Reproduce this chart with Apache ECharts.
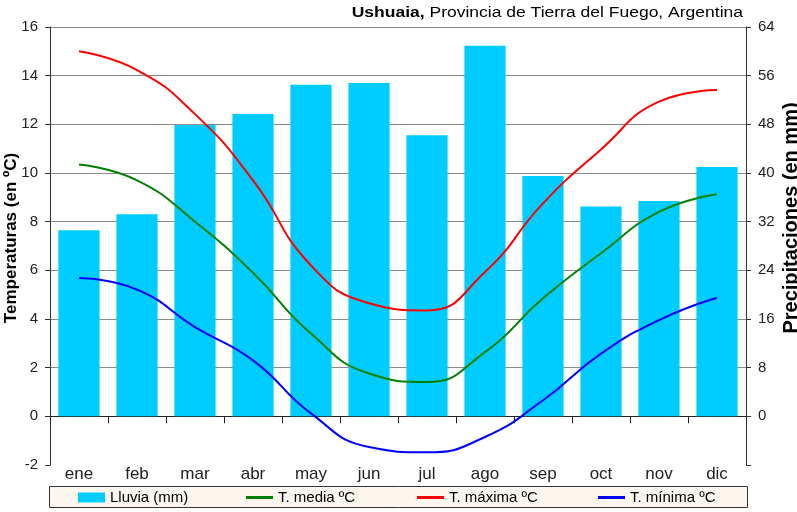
<!DOCTYPE html>
<html><head><meta charset="utf-8">
<script src="https://cdn.jsdelivr.net/npm/echarts@6/dist/echarts.min.js"></script>
<style>html,body{margin:0;padding:0;background:#fff}#c{width:797px;height:512px}</style>
</head><body><div id="c"></div>
<script>
const months = ['ene','feb','mar','abr','may','jun','jul','ago','sep','oct','nov','dic'];
const lluvia = [30.6, 33.2, 47.9, 49.7, 54.5, 54.8, 46.2, 60.9, 39.5, 34.5, 35.4, 41.0];
const tMedia = [10.35, 9.7, 8.0, 5.9, 3.4, 1.76, 1.41, 2.64, 4.85, 6.7, 8.4, 9.13];
const tMaxima = [15.0, 14.23, 12.42, 9.7, 6.2, 4.65, 4.35, 5.93, 8.75, 10.97, 12.93, 13.41];
const tMinima = [5.68, 5.21, 3.67, 2.3, 0.12, -1.26, -1.48, -0.85, 0.66, 2.58, 3.95, 4.87];
const leftTicks = {min: -2, max: 16, interval: 2};
const rightTicks = {min: -8, max: 64, interval: 8};
const titleBold = 'Ushuaia,';
const titleRest = ' Provincia de Tierra del Fuego, Argentina';

const font = '"Liberation Sans", Arial, sans-serif';
const chart = echarts.init(document.getElementById('c'), null, {renderer: 'canvas'});
const gridCols = ['rgba(0,0,0,0)'];
for (let i = 0; i < 9; i++) gridCols.push('#8a8a8a');
const legendText = {fontFamily: font, fontSize: 15, color: '#000'};
const lineCommon = {type: 'line', yAxisIndex: 0, smooth: true, symbol: 'none', z: 3};

chart.setOption({
  animation: false,
  backgroundColor: '#fff',
  textStyle: {fontFamily: font},
  grid: {left: 50, right: 51, top: 27, bottom: 47, containLabel: false, outerBoundsMode: 'none'},
  graphic: [{
    type: 'rect', left: 49, top: 486, z: -1,
    shape: {width: 698, height: 21},
    style: {fill: '#fdf6ee', stroke: '#333', lineWidth: 1}
  }, {
    type: 'text', x: 743, y: 13, scaleX: 1.25,
    style: {
      text: '{b|' + titleBold + '}' + titleRest,
      align: 'right', verticalAlign: 'middle',
      font: '14px ' + font, fill: '#000',
      rich: {b: {fontFamily: font, fontSize: 14, fontWeight: 'bold', fill: '#000'}}
    }
  }],
  legend: [
    {data: ['Lluvia (mm)'], left: 78, top: 490, padding: 0, itemWidth: 27, itemHeight: 10, icon: 'rect',
      textStyle: legendText},
    {data: ['T. media ºC'], left: 246, top: 490, padding: 0, itemWidth: 27, itemHeight: 3, icon: 'rect',
      textStyle: legendText},
    {data: ['T. máxima ºC'], left: 417, top: 490, padding: 0, itemWidth: 27, itemHeight: 3, icon: 'rect',
      textStyle: legendText},
    {data: ['T. mínima ºC'], left: 598, top: 490, padding: 0, itemWidth: 27, itemHeight: 3, icon: 'rect',
      textStyle: legendText}
  ],
  xAxis: [{
    type: 'category', data: months, boundaryGap: true,
    axisLine: {onZero: true, onZeroAxisIndex: 0, lineStyle: {color: '#222', width: 1}},
    axisTick: {show: true, inside: false, length: 7, lineStyle: {color: '#222'}},
    axisLabel: {show: false}, splitLine: {show: false}
  }, {
    type: 'category', data: months, boundaryGap: true, position: 'bottom',
    axisLine: {show: false}, axisTick: {show: false},
    axisLabel: {show: true, fontFamily: font, fontSize: 17, color: '#222', margin: 1},
    splitLine: {show: false}
  }],
  yAxis: [{
    type: 'value', position: 'left', min: leftTicks.min, max: leftTicks.max, interval: leftTicks.interval,
    name: 'Temperaturas (en ºC)', nameLocation: 'middle', nameRotate: 90, nameGap: 30, nameMoveOverlap: false,
    nameTextStyle: {fontFamily: font, fontSize: 17, fontWeight: 'bold', color: '#000', padding: [0, 0, 0, 16]},
    axisLine: {show: true, lineStyle: {color: '#333'}},
    axisTick: {show: true, length: 5, lineStyle: {color: '#333'}},
    axisLabel: {fontFamily: font, fontSize: 15, color: '#222', margin: 12},
    splitLine: {show: true, lineStyle: {color: gridCols, width: 1}}
  }, {
    type: 'value', position: 'right', min: rightTicks.min, max: rightTicks.max, interval: rightTicks.interval,
    name: 'Precipitaciones (en mm)', nameLocation: 'middle', nameRotate: 90, nameGap: 35, nameMoveOverlap: false,
    nameTextStyle: {fontFamily: font, fontSize: 20, fontWeight: 'bold', color: '#000', padding: [0, 0, 0, 56]},
    axisLine: {show: true, lineStyle: {color: '#333'}},
    axisTick: {show: true, length: 5, lineStyle: {color: '#333'}},
    axisLabel: {fontFamily: font, fontSize: 15, color: '#222', margin: 12,
      formatter: v => (v < 0 ? '' : String(v))},
    splitLine: {show: false}
  }],
  series: [{
    name: 'Lluvia (mm)', type: 'bar', data: lluvia, yAxisIndex: 1, xAxisIndex: 0,
    barCategoryGap: '29%', itemStyle: {color: '#00ccff'}, z: 1
  }, Object.assign({}, lineCommon, {
    name: 'T. media ºC', data: tMedia,
    lineStyle: {color: '#008000', width: 2}, itemStyle: {color: '#008000'}
  }), Object.assign({}, lineCommon, {
    name: 'T. máxima ºC', data: tMaxima,
    lineStyle: {color: '#ff0000', width: 2}, itemStyle: {color: '#ff0000'}
  }), Object.assign({}, lineCommon, {
    name: 'T. mínima ºC', data: tMinima,
    lineStyle: {color: '#0000ff', width: 2}, itemStyle: {color: '#0000ff'}
  })]
});
</script></body></html>
